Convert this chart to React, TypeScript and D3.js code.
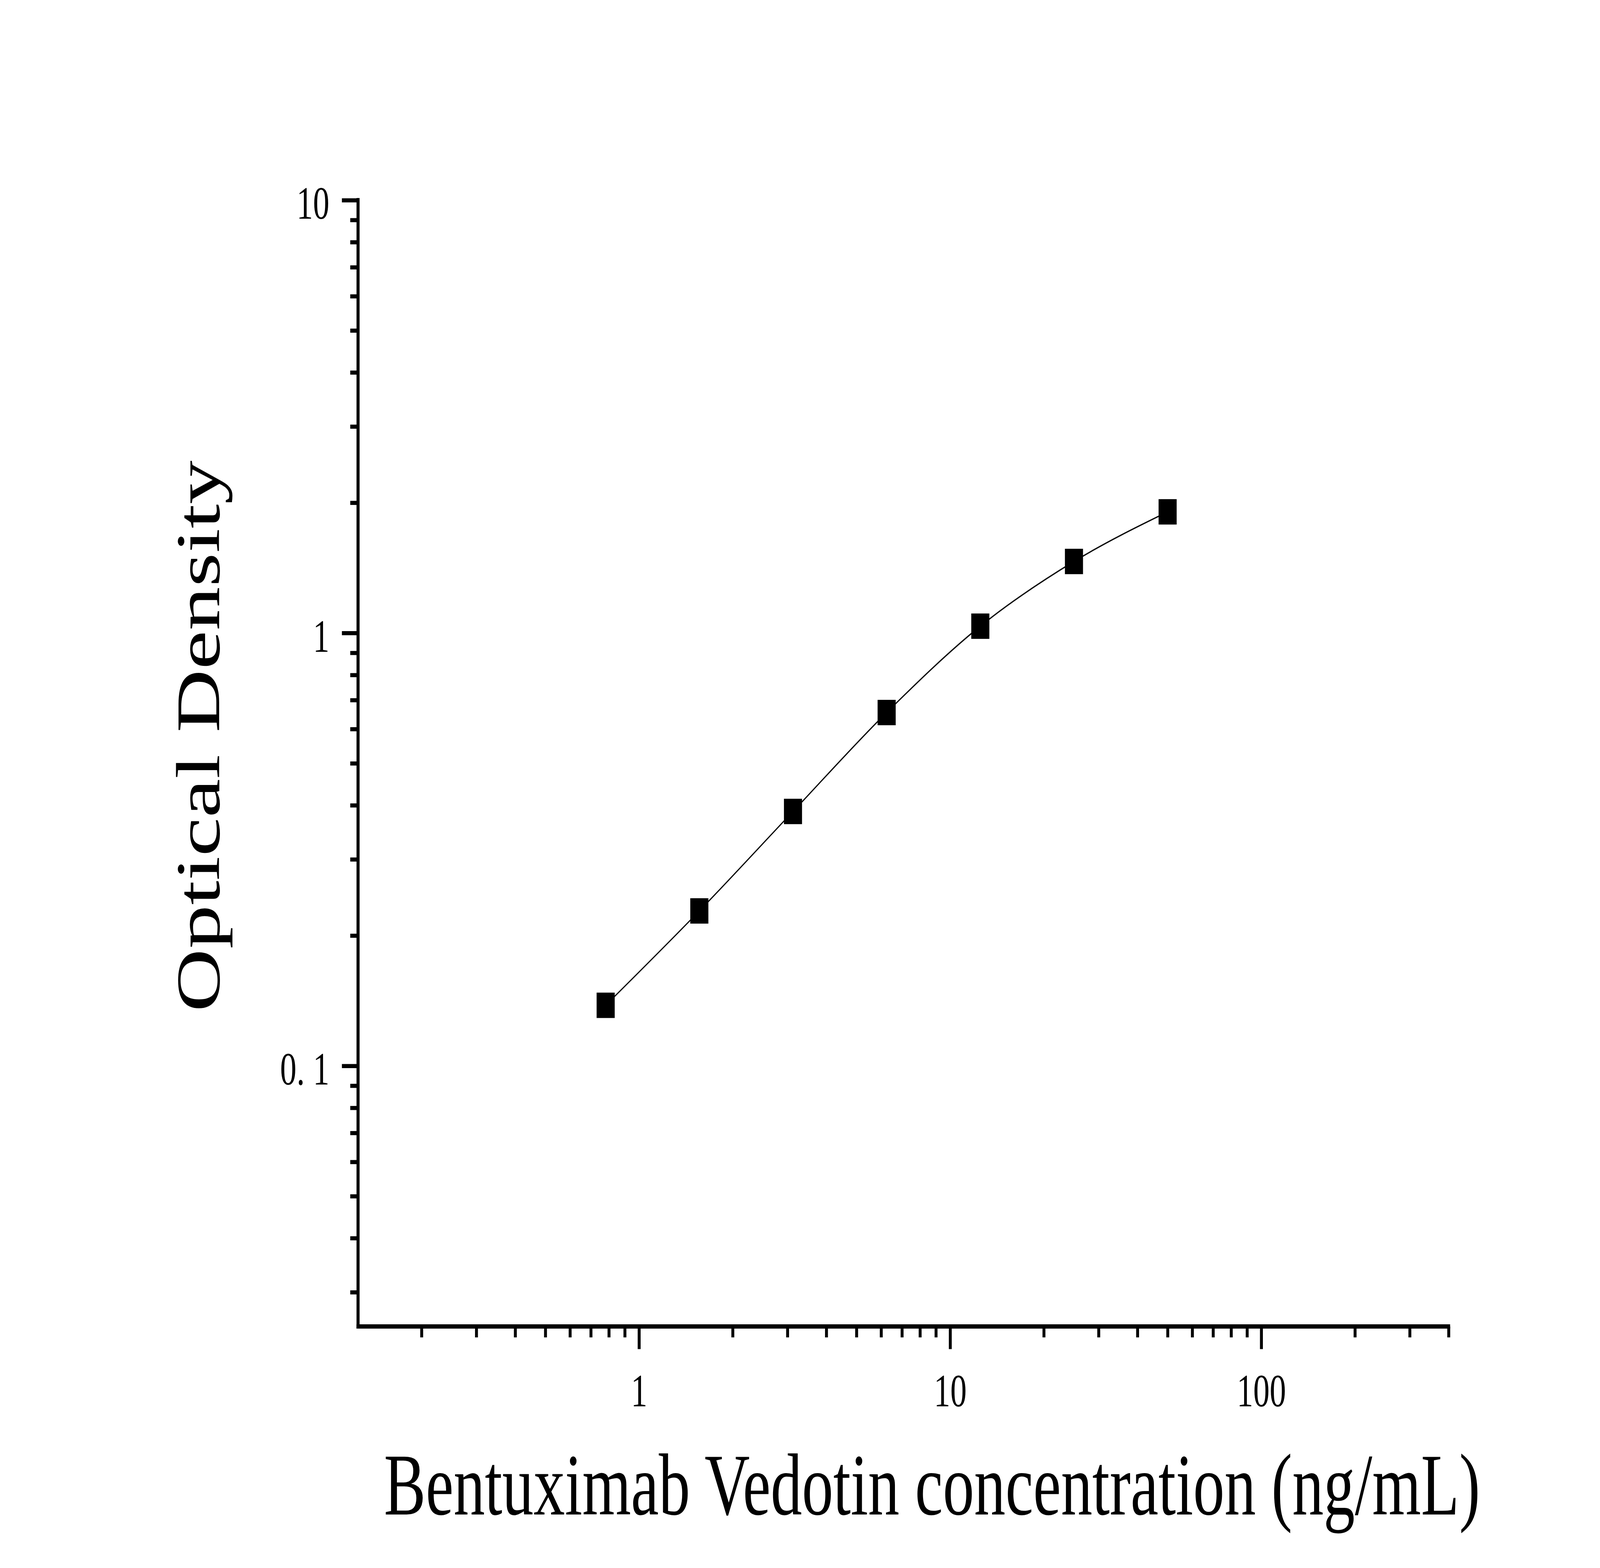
import * as d3 from 'd3';
import { useEffect, useRef } from 'react';

const concentrations = [0.78125, 1.5625, 3.125, 6.25, 12.5, 25, 50];
const opticalDensity = [0.138, 0.228, 0.387, 0.655, 1.037, 1.463, 1.905];

const xMajorTicks = [1, 10, 100];
const yMajorTicks = [0.1, 1, 10];
const yTickLabels = ['0. 1', '1', '10'];

const xTitle = 'Bentuximab Vedotin concentration (ng/mL)';
const yTitle = 'Optical Density';

// drawing is laid out in the reference's 5749x4015 frame, then fitted to the viewport
const width = 5749;
const height = 4015;
const fontFamily = '"Liberation Serif", "Times New Roman", serif';

export default function App() {
  const ref = useRef<SVGSVGElement | null>(null);

  useEffect(() => {
    document.body.style.margin = '0';
    document.body.style.overflow = 'hidden';
    if (!ref.current) return;
    const svg = d3.select(ref.current);
    svg.selectAll('*').remove();

    const xScale = d3.scaleLog().domain([0.125, 400]).range([1286.5, 5205]);
    const yScale = d3.scaleLog().domain([0.025, 10]).range([3396.5, 512.5]);

    const xMinor = xScale.ticks().filter((t) => !xMajorTicks.includes(t));
    const yMinor = yScale.ticks().filter((t) => !yMajorTicks.includes(t));

    const axisY = yScale(0.025);
    const axisX = xScale(0.125);

    svg.append('rect').attr('width', width).attr('height', height).attr('fill', '#fff');

    // minor ticks
    const xMinorG = svg
      .append('g')
      .attr('transform', `translate(0,${axisY})`)
      .call(d3.axisBottom(xScale).tickValues(xMinor).tickSize(28).tickFormat(() => ''));
    const yMinorG = svg
      .append('g')
      .attr('transform', `translate(${axisX},0)`)
      .call(d3.axisLeft(yScale).tickValues(yMinor).tickSize(28).tickFormat(() => ''));

    // major ticks with labels
    const xMajorG = svg
      .append('g')
      .attr('transform', `translate(0,${axisY})`)
      .call(d3.axisBottom(xScale).tickValues(xMajorTicks).tickSize(58).tickFormat((d) => String(d)));
    const yMajorG = svg
      .append('g')
      .attr('transform', `translate(${axisX},0)`)
      .call(
        d3
          .axisLeft(yScale)
          .tickValues(yMajorTicks)
          .tickSize(58)
          .tickPadding(45)
          .tickFormat((_d, i) => yTickLabels[i])
      );

    [xMinorG, yMinorG, xMajorG, yMajorG].forEach((g) => {
      g.selectAll('.domain').remove();
      g.selectAll('.tick line').attr('stroke', '#000').attr('stroke-width', 10.5);
    });

    xMajorG
      .selectAll('text')
      .attr('y', 3601 - axisY)
      .attr('dy', 0)
      .attr('fill', '#000')
      .attr('font-family', fontFamily)
      .attr('font-size', 118);

    yMajorG
      .selectAll('text')
      .attr('dy', '0.4em')
      .attr('fill', '#000')
      .attr('font-family', fontFamily)
      .attr('font-size', 118);

    // axis lines
    svg
      .append('line')
      .attr('x1', axisX)
      .attr('x2', axisX)
      .attr('y1', yScale(10) - 5.5)
      .attr('y2', axisY + 5.5)
      .attr('stroke', '#000')
      .attr('stroke-width', 11);
    svg
      .append('line')
      .attr('x1', axisX - 5.5)
      .attr('x2', xScale(400) + 5.5)
      .attr('y1', axisY)
      .attr('y2', axisY)
      .attr('stroke', '#000')
      .attr('stroke-width', 11);

    const points = concentrations.map((c, i) => [xScale(c), yScale(opticalDensity[i])] as [number, number]);

    // fitted curve
    svg
      .append('path')
      .attr('d', d3.line().curve(d3.curveMonotoneX)(points))
      .attr('fill', 'none')
      .attr('stroke', '#000')
      .attr('stroke-width', 3.5);

    // markers
    const size = 65;
    svg
      .append('g')
      .selectAll('rect')
      .data(points)
      .join('rect')
      .attr('x', (d) => d[0] - size / 2)
      .attr('y', (d) => d[1] - size / 2)
      .attr('width', size)
      .attr('height', size)
      .attr('fill', '#000');

    // titles
    svg
      .append('text')
      .attr('x', 3349)
      .attr('y', 3878)
      .attr('text-anchor', 'middle')
      .attr('font-family', fontFamily)
      .attr('font-size', 225)
      .attr('fill', '#000')
      .text(xTitle);

    svg
      .append('text')
      .attr('transform', 'translate(788,1885) rotate(-90)')
      .attr('text-anchor', 'middle')
      .attr('font-family', fontFamily)
      .attr('font-size', 224)
      .attr('fill', '#000')
      .text(yTitle);
  }, []);

  return (
    <svg
      ref={ref}
      viewBox={`0 0 ${width} ${height}`}
      preserveAspectRatio="none"
      style={{ display: 'block', width: '100vw', height: '100vh' }}
    />
  );
}
